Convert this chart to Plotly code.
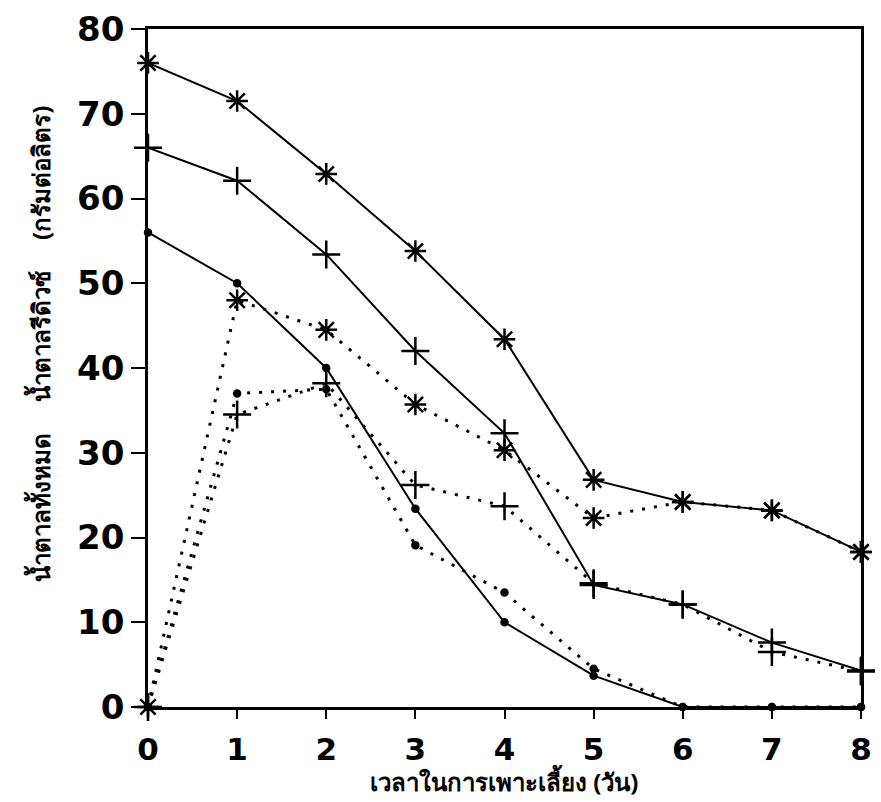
import plotly.graph_objects as go

# Culture time (days)
days = [0, 1, 2, 3, 4, 5, 6, 7, 8]

# Solid lines: total sugar, three treatments (g/L)
total_star = [76, 71.5, 62.9, 53.8, 43.4, 26.8, 24.2, 23.2, 18.3]
total_plus = [66, 62.1, 53.4, 42.0, 32.3, 14.4, 12.1, 7.6, 4.3]
total_dot = [56, 50.0, 40.0, 23.4, 10.0, 3.7, 0, 0, 0]

# Dotted lines: reducing sugar, three treatments (g/L)
reducing_star = [0, 48.0, 44.5, 35.7, 30.3, 22.3, 24.2, 23.2, 18.3]
reducing_plus = [0, 34.5, 38.2, 26.2, 23.7, 14.6, 12.1, 6.5, 4.2]
reducing_dot = [0, 37.0, 37.5, 19.1, 13.5, 4.5, 0, 0, 0]

y_ticks = [0, 10, 20, 30, 40, 50, 60, 70, 80]
x_title = "เวลาในการเพาะเลี้ยง (วัน)"
y_title = "น้ำตาลทั้งหมด     น้ำตาลรีดิวซ์     (กรัมต่อลิตร)"

INK = "black"
DOTS = "3px,9px"

fig = go.Figure()


def add_series(values, dash, symbol, size, width=2):
    fig.add_trace(go.Scatter(
        x=days, y=values, mode="lines+markers",
        line=dict(color=INK, width=width, dash=dash),
        marker=dict(symbol=symbol, size=size, color=INK,
                    line=dict(color=INK, width=2.5)),
        showlegend=False, cliponaxis=False,
    ))


add_series(reducing_star, DOTS, "asterisk-open", 18, 3)
add_series(reducing_plus, DOTS, "cross-thin-open", 20, 3)
add_series(reducing_dot, DOTS, "circle", 6, 3)
add_series(total_star, "solid", "asterisk-open", 18)
add_series(total_plus, "solid", "cross-thin-open", 20)
add_series(total_dot, "solid", "circle", 6)

y_tick_font = dict(family="DejaVu Sans, sans-serif", size=34,
                   color=INK, weight="bold")
x_tick_font = dict(family="DejaVu Sans, sans-serif", size=31,
                   color=INK, weight="bold")
title_font = dict(size=24, color=INK, weight="bold")

fig.update_layout(
    width=881, height=802,
    margin=dict(l=148, r=9, t=22, b=95),
    paper_bgcolor="white", plot_bgcolor="white",
    xaxis=dict(
        range=[0, 8], tickvals=days, ticks="outside", ticklen=9,
        tickwidth=2, tickcolor=INK, showline=True, linecolor=INK,
        linewidth=2.5, mirror=True, showgrid=False, zeroline=False,
        tickfont=x_tick_font, ticklabelstandoff=4,
    ),
    yaxis=dict(
        range=[0, 80], tickvals=y_ticks, ticks="outside", ticklen=14,
        tickwidth=2, tickcolor=INK, showline=True, linecolor=INK,
        linewidth=2.5, mirror=True, showgrid=False, zeroline=False,
        tickfont=y_tick_font,
    ),
    annotations=[
        dict(text=x_title, xref="paper", yref="paper", x=0.5, y=0,
             xanchor="center", yanchor="bottom", yshift=-93,
             showarrow=False, font=title_font),
        dict(text=y_title, xref="paper", yref="paper", x=0, y=0.535,
             xanchor="center", yanchor="middle", xshift=-108,
             textangle=-90, showarrow=False, font=title_font),
    ],
)

fig.write_html("out.html")
